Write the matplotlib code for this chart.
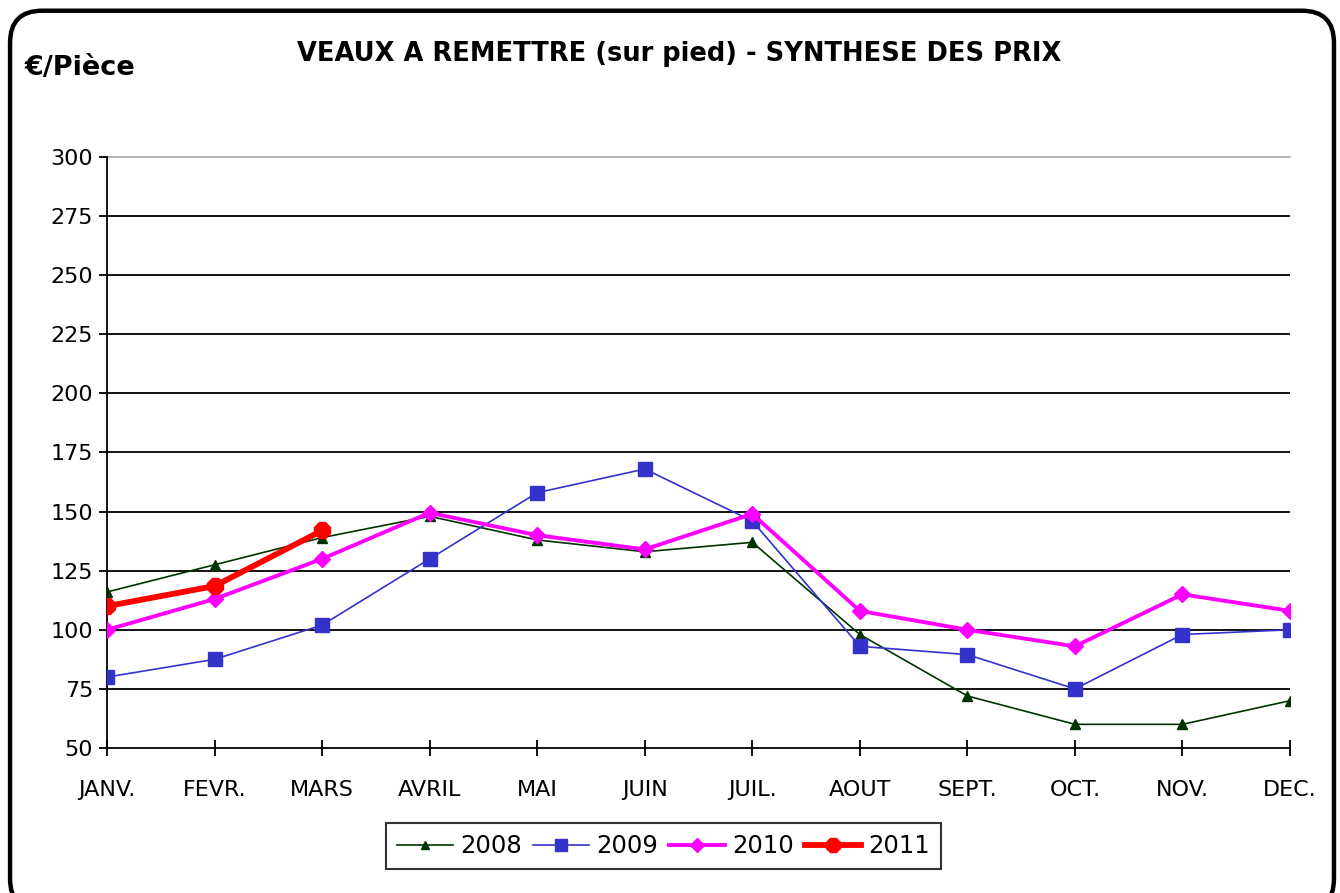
import matplotlib
matplotlib.use('Agg')
from matplotlib import pyplot as plt
from matplotlib.patches import FancyBboxPatch

# donnees
mois = ['JANV.', 'FEVR.', 'MARS', 'AVRIL', 'MAI', 'JUIN', 'JUIL.',
        'AOUT', 'SEPT.', 'OCT.', 'NOV.', 'DEC.']
prix_2008 = [116, 127.5, 139, 148, 138, 133, 137, 98, 72, 60, 60, 70]
prix_2009 = [80, 87.5, 102, 130, 158, 168, 146, 93, 89.5, 75, 98, 100]
prix_2010 = [100, 113, 130, 149.5, 140, 134, 149, 108, 100, 93, 115, 108]
prix_2011 = [110, 118.5, 142]
graduations = [50, 75, 100, 125, 150, 175, 200, 225, 250, 275, 300]

fig = plt.figure(figsize=(13.4, 8.93), dpi=100)

# cadre arrondi autour du graphique
cadre = FancyBboxPatch((0.0075, -0.02), 0.988, 1.008,
                       boxstyle='round,pad=0,rounding_size=0.024',
                       transform=fig.transFigure, fill=False,
                       edgecolor='black', linewidth=3.2, mutation_aspect=1.5)
fig.patches.append(cadre)

ax = fig.add_axes([0.0799, 0.1624, 0.8828, 0.6618])

x = list(range(len(mois)))
ax.plot(x, prix_2008, color='#003300', lw=1.2, marker='^', ms=7,
        label='2008', zorder=3)
ax.plot(x, prix_2009, color='#3333CC', lw=1.2, marker='s', ms=10,
        markeredgecolor='#3333CC', label='2009', zorder=4)
ax.plot(x, prix_2010, color='#FF00FF', lw=2.8, marker='D', ms=8.5,
        label='2010', zorder=5)
ax.plot(x[:len(prix_2011)], prix_2011, color='#FF0000', lw=4.2, marker='8',
        ms=13, label='2011', zorder=6)

ax.set_xlim(0, len(mois) - 1)
ax.set_ylim(50, 300)
ax.set_yticks(graduations)
ax.set_xticks(x)
ax.set_xticklabels(mois)

for g in graduations[1:-1]:
    ax.axhline(g, color='black', lw=1.3, zorder=1)
ax.axhline(300, color='#b0b0b0', lw=1.3, zorder=1, clip_on=False)

for s in ['top', 'right']:
    ax.spines[s].set_visible(False)
ax.spines['left'].set_linewidth(1.3)
ax.spines['bottom'].set_linewidth(1.3)
ax.tick_params(axis='y', direction='out', length=6, width=1.3,
               labelsize=16, pad=4)
ax.tick_params(axis='x', direction='inout', length=12, width=1.3,
               labelsize=16, pad=17)

fig.text(0.507, 0.940, 'VEAUX A REMETTRE (sur pied) - SYNTHESE DES PRIX',
         ha='center', va='center', fontsize=18.5, fontweight='bold')
fig.text(0.018, 0.924, '€/Pièce', ha='left', va='center',
         fontsize=19.5, fontweight='bold')

leg = fig.legend(loc='center', bbox_to_anchor=(0.495, 0.0525), ncol=4,
                 fontsize=17.5, frameon=True, fancybox=False,
                 handlelength=2.3, handletextpad=0.3, columnspacing=0.45,
                 borderpad=0.45, markerscale=0.8)
leg.get_frame().set_edgecolor('black')
leg.get_frame().set_linewidth(1.5)

fig.savefig('out.png', dpi=100)
